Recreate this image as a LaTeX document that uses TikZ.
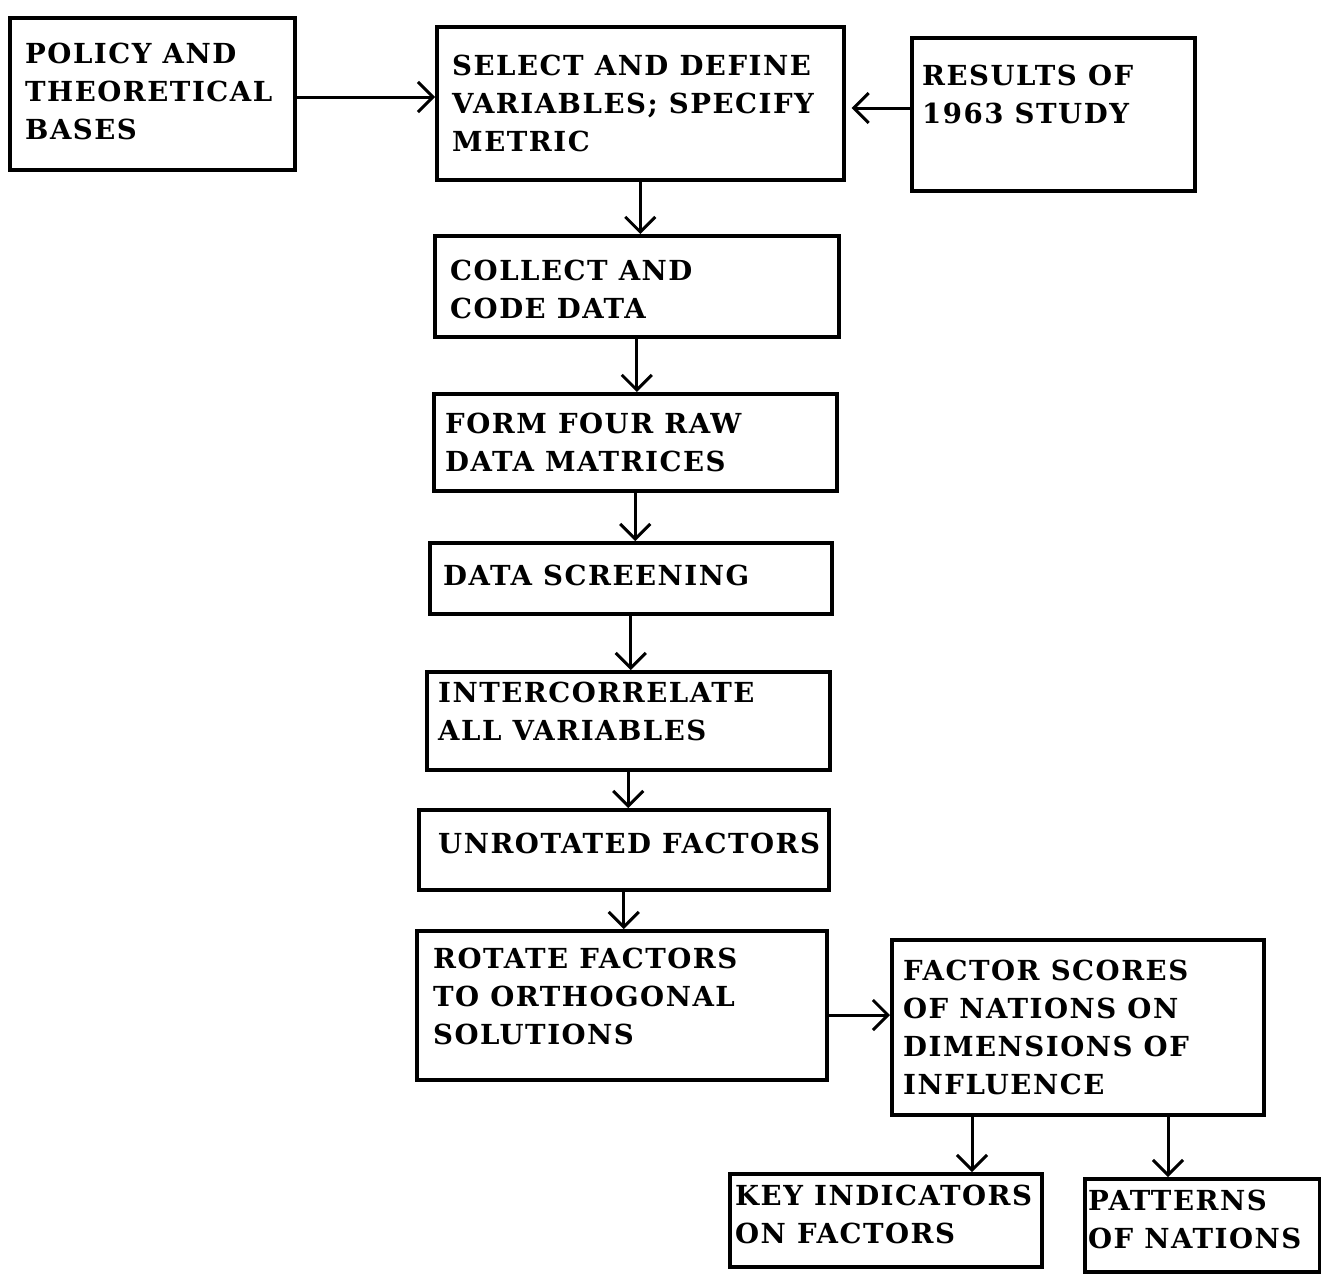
\documentclass[tikz,border=0pt]{standalone}
\usepackage{fontspec}
\setmainfont{DejaVu Serif}[LetterSpace=5.5]
\usetikzlibrary{arrows.meta}
\tikzset{
  box/.style={draw, line width=3.5pt, rectangle, inner sep=0pt, anchor=north west},
  lbl/.style={anchor=north west, inner sep=0pt, align=left,
    font=\bfseries\fontsize{27.6}{38}\selectfont},
  arr/.style={line width=3pt, -{Straight Barb[length=15pt,width=30pt,line width=3pt]}}
}
\begin{document}
\begin{tikzpicture}[x=1pt,y=-1pt]
\useasboundingbox (0,0) rectangle (1321,1275);
% boxes
\node[box, minimum width=285, minimum height=152] (pol) at (8,16) {};
\node[box, minimum width=407, minimum height=153] (sel) at (435,25) {};
\node[box, minimum width=283, minimum height=153] (res) at (910,36) {};
\node[box, minimum width=404, minimum height=101] (col) at (433,234) {};
\node[box, minimum width=403, minimum height=97] (frm) at (432,392) {};
\node[box, minimum width=402, minimum height=71] (scr) at (428,541) {};
\node[box, minimum width=403, minimum height=98] (itc) at (425,670) {};
\node[box, minimum width=410, minimum height=80] (unr) at (417,808) {};
\node[box, minimum width=410, minimum height=149] (rot) at (415,929) {};
\node[box, minimum width=372, minimum height=175] (fac) at (890,938) {};
\node[box, minimum width=312, minimum height=93] (key) at (728,1172) {};
\node[box, minimum width=235, minimum height=93] (pat) at (1083,1177) {};
% labels
\node[lbl] (polt) at (25,43) {POLICY AND\\THEORETICAL\\BASES};
\node[lbl] (selt) at (452,55) {SELECT AND DEFINE\\VARIABLES; SPECIFY\\METRIC};
\node[lbl] (rest) at (922,65) {RESULTS OF\\1963 STUDY};
\node[lbl] (colt) at (450,260) {COLLECT AND\\CODE DATA};
\node[lbl] (frmt) at (445,413) {FORM FOUR RAW\\DATA MATRICES};
\node[lbl] (scrt) at (443,565) {DATA SCREENING};
\node[lbl] (itct) at (438,682) {INTERCORRELATE\\ALL VARIABLES};
\node[lbl] (unrt) at (438,833) {UNROTATED FACTORS};
\node[lbl] (rott) at (433,948) {ROTATE FACTORS\\TO ORTHOGONAL\\SOLUTIONS};
\node[lbl] (fact) at (903,960) {FACTOR SCORES\\OF NATIONS ON\\DIMENSIONS OF\\INFLUENCE};
\node[lbl] (keyt) at (735,1185) {KEY INDICATORS\\ON FACTORS};
\node[lbl] (patt) at (1088,1190) {PATTERNS\\OF NATIONS};
% connectors
\draw[arr] (pol.east |- 0,97) -- (sel.west |- 0,97);
\draw[arr] (res.west |- 0,108) -- ([xshift=6pt]sel.east |- 0,108);
\draw[arr] (sel.south) -- (sel.south |- col.north);
\draw[arr] (col.south) -- (col.south |- frm.north);
\draw[arr] (frm.south) -- (frm.south |- scr.north);
\draw[arr] (scr.south) -- (scr.south |- itc.north);
\draw[arr] (itc.south) -- (itc.south |- unr.north);
\draw[arr] (unr.south) -- (unr.south |- rot.north);
\draw[arr] (rot.east |- 0,1015) -- (fac.west |- 0,1015);
\draw[arr] (fac.south -| 972,0) -- (key.north -| 972,0);
\draw[arr] (fac.south -| 1168,0) -- (pat.north -| 1168,0);
\end{tikzpicture}
\end{document}
